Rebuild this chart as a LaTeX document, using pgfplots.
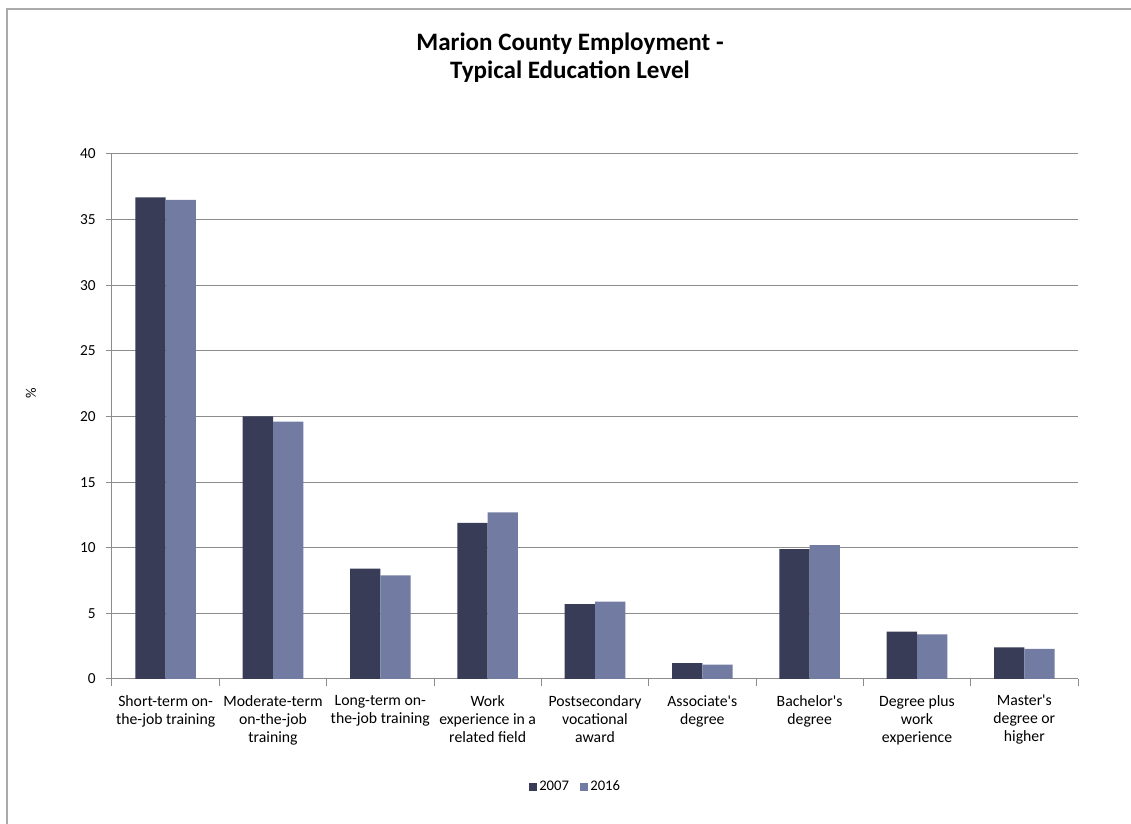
\documentclass[border=0pt]{standalone}
\usepackage{pgfplots}
\pgfplotsset{compat=1.18}
\usepackage{fontspec}
\setmainfont{Carlito}[Ligatures=TeXOff]
\definecolor{cA}{HTML}{383C56}
\definecolor{cB}{HTML}{727BA1}
\definecolor{gridc}{HTML}{8C8C8C}
\definecolor{borderc}{HTML}{ABABAB}
\begin{document}
\begin{tikzpicture}
\useasboundingbox (0,0) rectangle (848.25pt,618pt);
\draw[borderc, line width=1.5pt] (5.25pt,0pt) -- (5.25pt,611.25pt) -- (848.25pt,611.25pt);
\node[align=center, font=\bfseries\fontsize{18.8}{21}\selectfont] at (427.5pt,575pt) {Marion County Employment -\\Typical Education Level};
\begin{axis}[
  at={(84pt,108.75pt)}, anchor=south west,
  scale only axis, width=724.5pt, height=393.75pt,
  ybar=0pt, bar width=22.7pt,
  xmin=-0.5, xmax=8.5, ymin=0, ymax=40,
  ytick={0,5,...,40},
  xtick={0,...,8},
  xticklabels={{Short-term on-\\the-job training},{Moderate-term\\on-the-job\\training},{Long-term on-\\the-job training},{Work\\experience in a\\related field},{Postsecondary\\vocational\\award},{Associate's\\degree},{Bachelor's\\degree},{Degree plus\\work\\experience},{Master's\\degree or\\higher}},
  xticklabel style={align=center, font=\fontsize{11.8}{13.5}\selectfont, yshift=-4pt},
  major x tick style={draw=none},
  minor xtick={-0.5,0.5,...,8.5},
  minor x tick style={gridc, line width=0.75pt},
  minor tick length=5pt,
  tick align=outside,
  major tick length=4.7pt,
  y tick style={gridc, line width=0.75pt},
  yticklabel style={font=\fontsize{11.5}{13}\selectfont, xshift=-4pt},
  /pgf/number format/assume math mode=true,
  ymajorgrids, major grid style={gridc, line width=0.75pt},
  axis lines*=left,
  axis line style={gridc, line width=0.75pt},
  legend style={at={(0.48,-0.2057)}, anchor=center, draw=none, font=\fontsize{11}{13}\selectfont, legend columns=2, /tikz/every even column/.append style={column sep=6pt}},
  legend image code/.code={\fill[#1] (0pt,-3pt) rectangle (6pt,3pt);},
  clip=false,
]
\addplot[fill=cA, draw=none] coordinates {(0,36.7) (1,20.0) (2,8.4) (3,11.9) (4,5.7) (5,1.2) (6,9.9) (7,3.6) (8,2.4)};
\addplot[fill=cB, draw=none] coordinates {(0,36.5) (1,19.6) (2,7.9) (3,12.7) (4,5.9) (5,1.1) (6,10.2) (7,3.4) (8,2.3)};
\legend{2007,2016}
\end{axis}
\node[rotate=90, font=\fontsize{11}{13}\selectfont] at (23.25pt,323.25pt) {\%};
\end{tikzpicture}
\end{document}
